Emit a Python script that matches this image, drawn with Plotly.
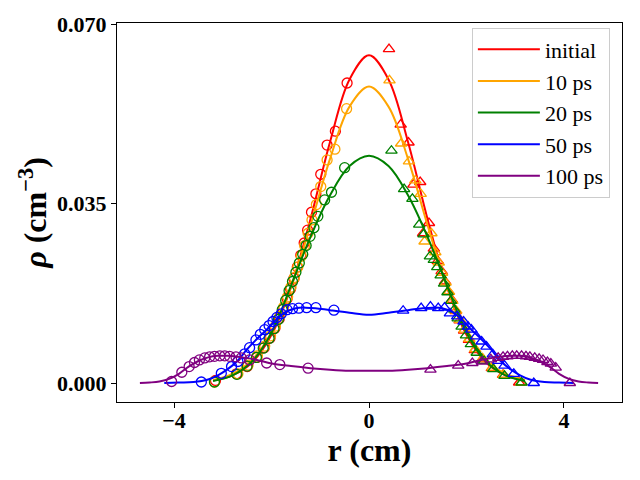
import plotly.graph_objects as go

# smooth curves
r_core = [-3.2, -2.8, -2.4, -2.0, -1.6, -1.2, -0.8, -0.4, 0.0, 0.4, 0.8, 1.2, 1.6, 2.0, 2.4, 2.8, 3.2]
rho_initial = [0.0005, 0.0015, 0.0040, 0.0094, 0.0187, 0.0320, 0.0470, 0.0592, 0.0639,
               0.0592, 0.0470, 0.0320, 0.0187, 0.0094, 0.0040, 0.0015, 0.0005]
rho_10ps = [0.0006, 0.0018, 0.0045, 0.0099, 0.0188, 0.0308, 0.0437, 0.0539, 0.0578,
            0.0539, 0.0437, 0.0308, 0.0188, 0.0099, 0.0045, 0.0018, 0.0006]
rho_20ps = [0.0004, 0.0015, 0.0042, 0.0098, 0.0190, 0.0285, 0.0366, 0.0423, 0.0443,
            0.0423, 0.0366, 0.0285, 0.0190, 0.0098, 0.0042, 0.0015, 0.0004]

r_50 = [-4.2, -3.9, -3.6, -3.3, -3.1, -2.9, -2.7, -2.5, -2.3, -2.1, -1.9, -1.7, -1.5, -1.3, -1.1, -0.8, -0.4, 0.0,
        0.4, 0.8, 1.1, 1.3, 1.5, 1.7, 1.9, 2.1, 2.3, 2.5, 2.7, 2.9, 3.1, 3.3, 3.6, 3.9, 4.2]
rho_50ps = [0.0000, 0.0001, 0.0002, 0.0007, 0.0015, 0.0027, 0.0043, 0.0066, 0.0086, 0.0104, 0.0124, 0.0139,
            0.0146, 0.0147, 0.0146, 0.0142, 0.0137, 0.0133,
            0.0137, 0.0142, 0.0146, 0.0147, 0.0146, 0.0139, 0.0124, 0.0104, 0.0086, 0.0066, 0.0043, 0.0027,
            0.0015, 0.0007, 0.0002, 0.0001, 0.0000]

r_100 = [-4.7, -4.5, -4.3, -4.1, -3.9, -3.7, -3.5, -3.3, -3.1, -2.9, -2.6, -2.3, -2.0, -1.6, -1.2, -0.8, -0.4, 0.0,
         0.4, 0.8, 1.2, 1.6, 2.0, 2.3, 2.6, 2.9, 3.1, 3.3, 3.5, 3.7, 3.9, 4.1, 4.3, 4.5, 4.7]
rho_100ps = [0.0000, 0.0001, 0.0003, 0.0008, 0.0018, 0.0032, 0.0043, 0.0050, 0.0053, 0.0053, 0.0050, 0.0045,
             0.0038, 0.0033, 0.0029, 0.0026, 0.0024, 0.0024,
             0.0024, 0.0026, 0.0029, 0.0033, 0.0038, 0.0045, 0.0050, 0.0053, 0.0053, 0.0050, 0.0043, 0.0032,
             0.0018, 0.0008, 0.0003, 0.0001, 0.0000]

# sample points, circles on the left, triangles on the right
circ_r_initial = [-0.45, -0.69, -0.86, -0.99, -1.09, -1.18, -1.26, -1.33, -1.40, -1.47, -1.54, -1.61, -1.68,
                  -1.76, -1.84, -1.93, -2.03, -2.15, -2.30, -2.50, -2.72, -3.15]
circ_rho_initial = [0.0585, 0.0491, 0.0464, 0.0407, 0.0369, 0.0333, 0.0298, 0.0273, 0.0249, 0.0226, 0.0204,
                    0.0184, 0.0165, 0.0144, 0.0126, 0.0107, 0.0088, 0.0069, 0.0050, 0.0032, 0.0018, 0.0005]
tri_r_initial = [0.41, 0.65, 0.81, 0.91, 1.05, 1.11, 1.23, 1.33, 1.41, 1.49, 1.56, 1.63, 1.70, 1.78, 1.86,
                 1.95, 2.05, 2.17, 2.32, 2.52, 2.75, 3.08]
tri_rho_initial = [0.0651, 0.0504, 0.0469, 0.0387, 0.0392, 0.0292, 0.0312, 0.0262, 0.0238, 0.0218, 0.0198,
                   0.0178, 0.0162, 0.0140, 0.0122, 0.0102, 0.0084, 0.0064, 0.0046, 0.0029, 0.0016, 0.0001]

circ_r_10ps = [-0.46, -0.70, -0.86, -0.99, -1.08, -1.17, -1.25, -1.32, -1.39, -1.46, -1.53, -1.60, -1.67,
               -1.75, -1.83, -1.92, -2.02, -2.14, -2.29, -2.48, -2.69, -3.17]
circ_rho_10ps = [0.0535, 0.0456, 0.0435, 0.0383, 0.0348, 0.0318, 0.0292, 0.0268, 0.0247, 0.0226, 0.0206,
                 0.0187, 0.0168, 0.0148, 0.0130, 0.0111, 0.0092, 0.0072, 0.0053, 0.0035, 0.0018, 0.0002]
tri_r_10ps = [0.42, 0.66, 0.82, 0.95, 1.06, 1.14, 1.28, 1.36, 1.43, 1.50, 1.57, 1.64, 1.71, 1.79, 1.87,
              1.96, 2.06, 2.18, 2.33, 2.53, 2.76, 3.12]
tri_rho_10ps = [0.0590, 0.0467, 0.0432, 0.0395, 0.0369, 0.0276, 0.0292, 0.0255, 0.0235, 0.0215, 0.0196,
                0.0178, 0.0160, 0.0141, 0.0123, 0.0104, 0.0086, 0.0066, 0.0048, 0.0030, 0.0016, 0.0001]

circ_r_20ps = [-0.50, -0.77, -0.91, -1.05, -1.13, -1.21, -1.29, -1.36, -1.43, -1.50, -1.57, -1.64, -1.71,
               -1.78, -1.86, -1.95, -2.05, -2.17, -2.31, -2.50, -2.71, -3.17]
circ_rho_20ps = [0.0420, 0.0372, 0.0357, 0.0325, 0.0303, 0.0286, 0.0268, 0.0251, 0.0234, 0.0216, 0.0198,
                 0.0180, 0.0161, 0.0143, 0.0124, 0.0106, 0.0087, 0.0068, 0.0050, 0.0033, 0.0017, 0.0002]
tri_r_20ps = [0.46, 0.72, 0.89, 1.03, 1.12, 1.25, 1.33, 1.40, 1.47, 1.54, 1.61, 1.68, 1.75, 1.82, 1.90,
              1.99, 2.09, 2.21, 2.36, 2.55, 2.78, 3.13]
tri_rho_20ps = [0.0453, 0.0378, 0.0359, 0.0309, 0.0290, 0.0247, 0.0240, 0.0226, 0.0210, 0.0194, 0.0177,
                0.0160, 0.0143, 0.0126, 0.0110, 0.0093, 0.0076, 0.0059, 0.0043, 0.0027, 0.0014, 0.0001]

circ_r_50ps = [-0.72, -1.09, -1.28, -1.44, -1.57, -1.68, -1.80, -1.89, -1.97, -2.05, -2.14, -2.23, -2.32,
               -2.45, -2.55, -2.69, -2.82, -3.03, -3.44]
circ_rho_50ps = [0.0142, 0.0147, 0.0147, 0.0146, 0.0145, 0.0143, 0.0135, 0.0128, 0.0120, 0.0112, 0.0104,
                 0.0095, 0.0084, 0.0069, 0.0057, 0.0042, 0.0032, 0.0019, 0.0002]
tri_r_50ps = [0.70, 1.07, 1.26, 1.42, 1.55, 1.66, 1.81, 1.94, 2.03, 2.10, 2.20, 2.31, 2.41, 2.54, 2.65,
              2.78, 2.97, 3.38]
tri_rho_50ps = [0.0141, 0.0146, 0.0149, 0.0146, 0.0147, 0.0136, 0.0130, 0.0120, 0.0110, 0.0104, 0.0091,
                0.0081, 0.0071, 0.0056, 0.0043, 0.0034, 0.0018, 0.0000]

circ_r_100ps = [-4.05, -3.84, -3.69, -3.58, -3.48, -3.37, -3.27, -3.17, -3.06, -2.96, -2.86, -2.73, -2.62,
                -2.45, -2.10, -1.83, -1.25]
circ_rho_100ps = [0.0003, 0.0021, 0.0032, 0.0040, 0.0045, 0.0049, 0.0051, 0.0052, 0.0053, 0.0053, 0.0052,
                  0.0051, 0.0049, 0.0045, 0.0039, 0.0036, 0.0029]
tri_r_100ps = [1.26, 1.83, 2.12, 2.32, 2.50, 2.65, 2.75, 2.84, 2.94, 3.03, 3.13, 3.22, 3.30, 3.40, 3.49,
               3.57, 3.66, 3.73, 3.83, 4.12]
tri_rho_100ps = [0.0026, 0.0034, 0.0039, 0.0042, 0.0046, 0.0049, 0.0051, 0.0052, 0.0053, 0.0053, 0.0053,
                 0.0052, 0.0051, 0.0049, 0.0047, 0.0045, 0.0041, 0.0038, 0.0030, 0.0000]

series = [
    ('initial', 'red', r_core, rho_initial, circ_r_initial, circ_rho_initial, tri_r_initial, tri_rho_initial),
    ('10 ps', 'orange', r_core, rho_10ps, circ_r_10ps, circ_rho_10ps, tri_r_10ps, tri_rho_10ps),
    ('20 ps', 'green', r_core, rho_20ps, circ_r_20ps, circ_rho_20ps, tri_r_20ps, tri_rho_20ps),
    ('50 ps', 'blue', r_50, rho_50ps, circ_r_50ps, circ_rho_50ps, tri_r_50ps, tri_rho_50ps),
    ('100 ps', 'purple', r_100, rho_100ps, circ_r_100ps, circ_rho_100ps, tri_r_100ps, tri_rho_100ps),
]

serif = 'Liberation Serif'
fig = go.Figure()
for name, color, lx, ly, cx, cy, tx, ty in series:
    fig.add_trace(go.Scatter(x=lx, y=ly, mode='lines', name=name,
                             line=dict(color=color, width=2, shape='spline')))
    fig.add_trace(go.Scatter(x=cx, y=cy, mode='markers', showlegend=False,
                             marker=dict(symbol='circle-open', size=10, color=color,
                                         line=dict(width=1.3, color=color))))
    fig.add_trace(go.Scatter(x=tx, y=ty, mode='markers', showlegend=False,
                             marker=dict(symbol='triangle-up-open', size=10, color=color,
                                         line=dict(width=1.3, color=color))))

axis_style = dict(showline=True, mirror=True, linecolor='black', linewidth=1.2,
                  ticks='outside', ticklen=5, tickwidth=1.2, tickcolor='black',
                  showgrid=False, zeroline=False, automargin=False,
                  tickfont=dict(family=serif, size=22, color='black', weight='bold'))

fig.update_xaxes(range=[-5.17, 5.19], tickvals=[-4, 0, 4], ticktext=['−4', '0', '4'],
                 ticklabelstandoff=-7,
                 title=dict(text='<b>r (cm)</b>', font=dict(family=serif, size=32, color='black'), standoff=2),
                 **axis_style)
fig.update_yaxes(range=[-0.0037, 0.0702], tickvals=[0.0, 0.035, 0.07], ticktext=['0.000', '0.035', '0.070'],
                 title=dict(text='<b><i>ρ</i> (cm<sup>−3</sup>)</b>',
                            font=dict(family=serif, size=32, color='black'), standoff=0),
                 **axis_style)

# the page adds an 8px body margin, so the margins are shifted by that much
fig.update_layout(
    template='simple_white',
    width=640, height=480,
    margin=dict(l=109, r=26, t=15, b=86),
    plot_bgcolor='white', paper_bgcolor='white',
    legend=dict(x=0.976, y=0.988, xanchor='right', yanchor='top', itemwidth=62,
                bgcolor='rgba(255,255,255,0.8)', bordercolor='#cccccc', borderwidth=1,
                font=dict(family=serif, size=22, color='black')),
)

fig.write_html('out.html')
